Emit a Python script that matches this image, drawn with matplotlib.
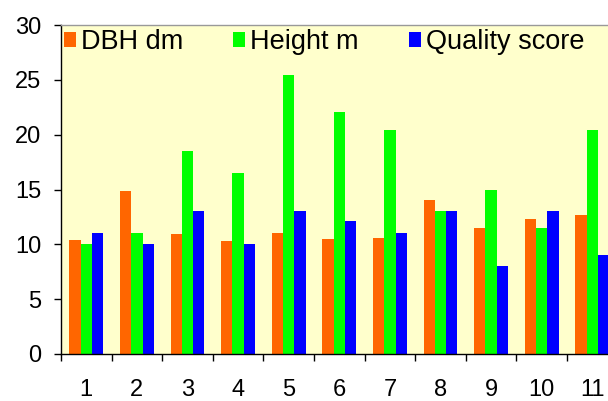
import numpy as np
import matplotlib
matplotlib.use("Agg")
import matplotlib.pyplot as plt

plt.rcParams['font.family'] = ['Liberation Sans', 'DejaVu Sans']

categories = ['1', '2', '3', '4', '5', '6', '7', '8', '9', '10', '11']
dbh = [10.4, 14.9, 10.9, 10.3, 11.05, 10.45, 10.6, 14.0, 11.45, 12.35, 12.65]
height = [10.0, 11.0, 18.55, 16.5, 25.45, 22.05, 20.45, 13.0, 15.0, 11.45, 20.45]
quality = [11.0, 10.0, 13.0, 10.0, 13.0, 12.1, 11.0, 13.0, 8.0, 13.0, 9.0]
series_names = ['DBH dm', 'Height m', 'Quality score']
colors = ['#FF6600', '#00FF00', '#0000FF']

fig = plt.figure(figsize=(6.08, 4.01), dpi=100)
# plot area runs past the right edge of the picture, like the original
ax = fig.add_axes([61 / 608, 47 / 401, 556.6 / 608, 329 / 401])
ax.set_facecolor('#FFFFCC')

x = np.arange(len(categories))
w = 1 / 4.5  # gap width 150%
for i, (vals, name, c) in enumerate(zip([dbh, height, quality], series_names, colors)):
    ax.bar(x + (i - 1) * w, vals, width=w, color=c, linewidth=0, label=name)

ax.set_xlim(-0.5, len(categories) - 0.5)
ax.set_ylim(0, 30)
ax.set_yticks(range(0, 31, 5))

# ticks on category boundaries, labels at the centres
ax.set_xticks(np.arange(len(categories) + 1) - 0.5)
ax.set_xticklabels([])
ax.set_xticks(x, minor=True)
ax.set_xticklabels(categories, minor=True)
ax.tick_params(axis='x', which='major', direction='out', length=5, width=1, color='black')
ax.tick_params(axis='x', which='minor', length=0, pad=18, labelsize=17)
ax.tick_params(axis='y', direction='out', length=5, width=1, pad=9, labelsize=17)

for s in ['left', 'bottom']:
    ax.spines[s].set_color('black')
    ax.spines[s].set_linewidth(1)
for s in ['top', 'right']:
    ax.spines[s].set_color('#999999')
    ax.spines[s].set_linewidth(1)

leg = ax.legend(loc='upper left', bbox_to_anchor=(64 / 608, 1 - 29 / 401),
                bbox_transform=fig.transFigure, ncol=3, frameon=False,
                fontsize=19.5, handlelength=0.43, handleheight=0.45,
                handletextpad=0.2, columnspacing=1.85, borderpad=0, borderaxespad=0)

fig.savefig('out.png', dpi=100)
